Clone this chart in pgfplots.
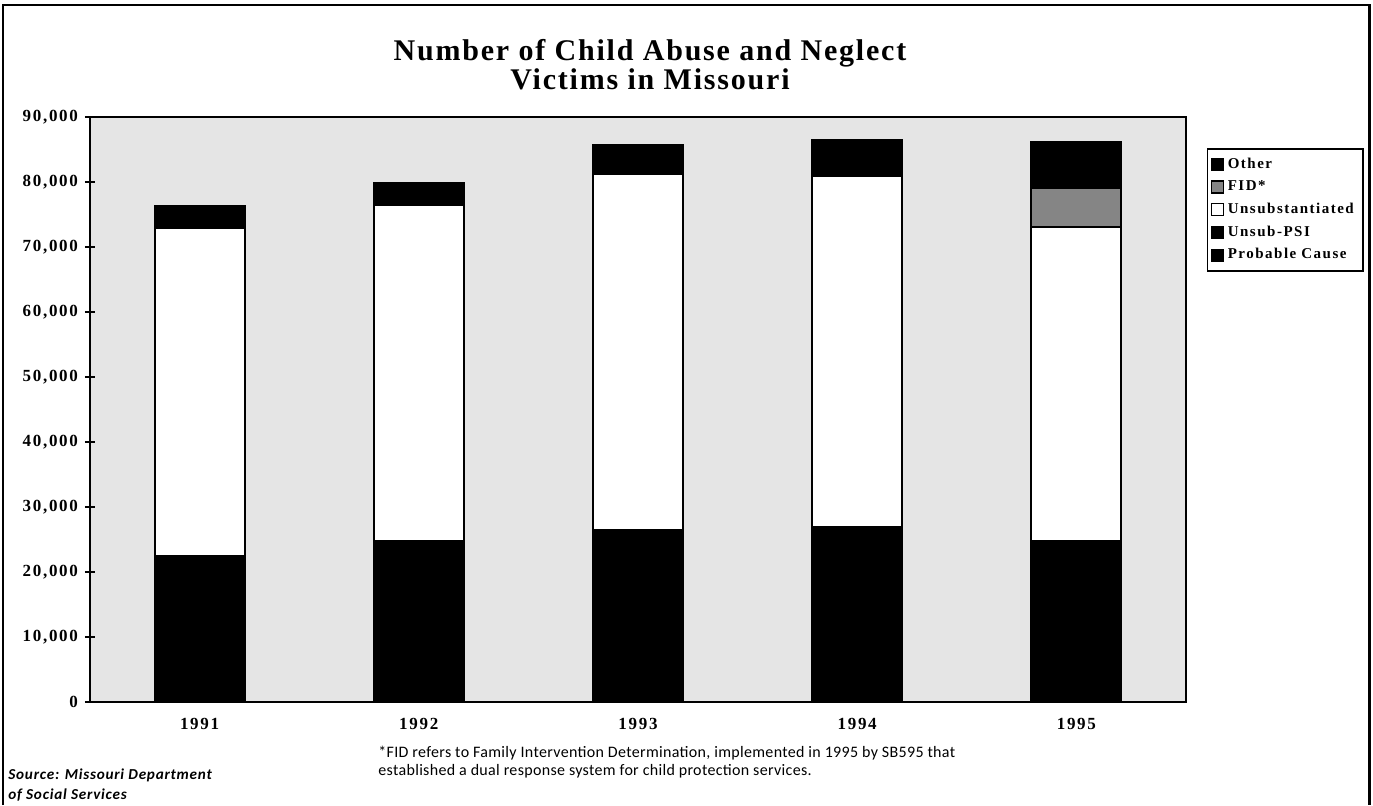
\documentclass[border=0pt]{standalone}
\usepackage{pgfplots}
\pgfplotsset{compat=1.18}
\usepackage{fontspec}
\setmainfont{Liberation Serif}
\newfontfamily\tickfont{Liberation Serif}[LetterSpace=10]
\newfontfamily\titlefont{Liberation Serif}[LetterSpace=6]
\newfontfamily\notefont{Carlito}[LetterSpace=2]
\newfontfamily\srcfont{Carlito}[LetterSpace=5]
\pgfplotstableread{
x PC PSI Unsub FID Other
0 22500 0 50400 0    3400
1 24700 0 51800 0    3300
2 26500 0 54700 0    4500
3 26900 0 54100 0    5400
4 24700 0 48400 6000 7100
}\datatable
\begin{document}
\begin{tikzpicture}
\begin{axis}[
  at={(45pt,-351pt)}, anchor=south west,
  scale only axis, width=548pt, height=292.5pt,
  xmin=-0.5, xmax=4.5, ymin=0, ymax=90000,
  ybar stacked, bar width=0.41,
  axis background/.style={fill=black!10},
  axis line style={line width=0.9pt},
  xtick=data, xticklabels={1991,1992,1993,1994,1995},
  x tick style={draw=none},
  ytick={0,10000,...,90000},
  ytick pos=left, tick align=center,
  major tick length=5pt,
  y tick style={line width=0.6pt, black},
  scaled y ticks=false,
  /pgf/number format/.cd, fixed, 1000 sep={,}, assume math mode=true,
  /pgfplots/.cd,
  ticklabel style={font=\tickfont\bfseries\fontsize{8.5}{10}\selectfont},
  xticklabel style={yshift=-2pt},
  reverse legend,
  legend style={at={(1.019,0.947)}, anchor=north west, draw=black, line width=0.8pt,
    font=\tickfont\bfseries\fontsize{7.5}{9}\selectfont, row sep=0.7pt,
    inner xsep=1.5pt, inner ysep=2.5pt, cells={anchor=west}, text width=64pt},
  legend image code/.code={\draw[#1, line width=0.6pt] (0pt,-3pt) rectangle (6pt,3pt);},
  every axis plot/.append style={draw=black, line width=1pt},
]
\addplot[fill=black] table[x=x,y=PC]{\datatable};
\addlegendentry{Probable Cause}
\addplot[fill=black] table[x=x,y=PSI]{\datatable};
\addlegendentry{Unsub-PSI}
\addplot[fill=white] table[x=x,y=Unsub]{\datatable};
\addlegendentry{Unsubstantiated}
\addplot[fill=black!48] table[x=x,y=FID]{\datatable};
\addlegendentry{FID*}
\addplot[fill=black] table[x=x,y=Other]{\datatable};
\addlegendentry{Other}
\end{axis}
\node[font=\titlefont\bfseries\fontsize{15}{14.5}\selectfont, align=center] at (325pt,-32.25pt)
  {Number of Child Abuse and Neglect\\Victims in Missouri};
\node[anchor=north west, inner sep=0pt, align=left, font=\notefont\fontsize{8}{9}\selectfont]
  at (189pt,-373pt) {*FID refers to Family Intervention Determination, implemented in 1995 by SB595 that\\established a dual response system for child protection services.};
\node[anchor=north west, inner sep=0pt, align=left, font=\srcfont\bfseries\itshape\fontsize{7.6}{10}\selectfont]
  at (4pt,-384pt) {Source: Missouri Department\\of Social Services};
\draw[line width=1.2pt] (1.5pt,-402.5pt) -- (1.5pt,-2.5pt) -- (684.8pt,-2.5pt) -- (684.8pt,-402.5pt);
\pgfresetboundingbox
\useasboundingbox (0,0) rectangle (686.5pt,-402.5pt);
\end{tikzpicture}
\end{document}
